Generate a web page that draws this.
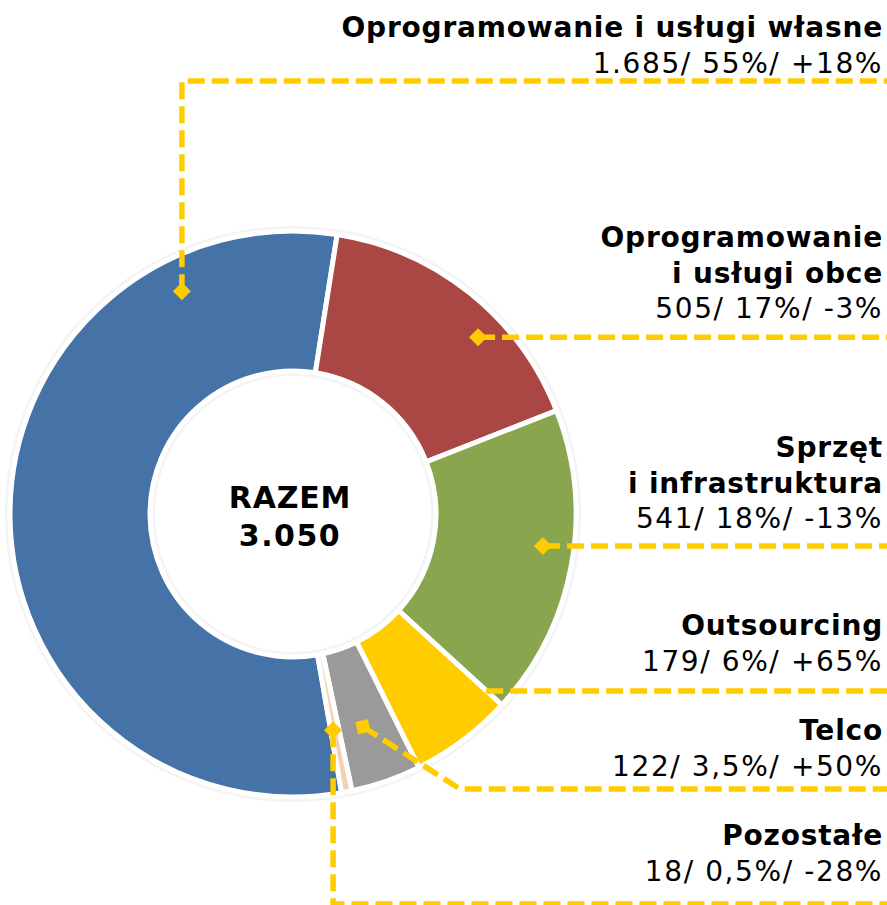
<!DOCTYPE html>
<html>
<head>
<meta charset="utf-8">
<script src="https://cdn.jsdelivr.net/npm/d3@7"></script>
<style>
  html, body { margin: 0; padding: 0; background: #fff; }
  #chart text { font-family: 'DejaVu Sans', Verdana, sans-serif; }
</style>
</head>
<body>
<div id="chart"></div>
<script>
// Data
const titles = [
  ['Oprogramowanie i usługi własne'],
  ['Oprogramowanie', 'i usługi obce'],
  ['Sprzęt', 'i infrastruktura'],
  ['Outsourcing'],
  ['Telco'],
  ['Pozostałe'],
];
const values = [1685, 505, 541, 179, 122, 18];
const valueLabels = ['1.685', '505', '541', '179', '122', '18'];
const shares = ['55%', '17%', '18%', '6%', '3,5%', '0,5%'];
const changes = ['+18%', '-3%', '-13%', '+65%', '+50%', '-28%'];
const centerLabel = ['RAZEM', '3.050'];
const colors = ['#4572a7', '#aa4643', '#89a54e', '#ffcc00', '#9a9a9a', '#f3d2b4'];

function draw() {
  // Dimensions
  let dimensions = {
    width: 887,
    height: 905,
    cx: 293,
    cy: 514,
    outer: 283,
    inner: 143,
    textRight: 883,
    lineHeight: 35.5,
  };

  // label layout: first baseline + leader anchor (angle in deg, radius)
  const labelTop = [37, 247, 457, 635, 740, 845];
  const leaders = [
    { angle: 333.5, r: 249, kind: 'up', y: 81 },
    { angle: 46.3, r: 256, kind: 'flat' },
    { angle: 97.3, r: 252, kind: 'flat' },
    { angle: 132.5, r: 262, kind: 'flat', noMarker: true },
    { angle: 161.8, r: 224, kind: 'diag', x: 460, y: 789 },
    { angle: 169.5, r: 220, kind: 'down', y: 904 },
  ];

  const svg = d3
    .select('#chart')
    .append('svg')
    .attr('width', dimensions.width)
    .attr('height', dimensions.height);

  const defs = svg.append('defs');
  defs
    .append('marker')
    .attr('id', 'diamond')
    .attr('viewBox', '-10 -10 20 20')
    .attr('markerUnits', 'userSpaceOnUse')
    .attr('markerWidth', 20)
    .attr('markerHeight', 20)
    .attr('orient', 'auto')
    .append('path')
    .attr('d', 'M-9,0L0,-9L9,0L0,9Z')
    .attr('fill', '#ffcc00');

  const ctr = svg
    .append('g')
    .attr('transform', `translate(${dimensions.cx}, ${dimensions.cy})`);

  // Pie
  const pie = d3
    .pie()
    .sort(null)
    .value((d) => d)
    .startAngle((170.1 * Math.PI) / 180)
    .endAngle((530.1 * Math.PI) / 180);

  const arc = d3
    .arc()
    .innerRadius(dimensions.inner)
    .outerRadius(dimensions.outer);

  // soft grey halo around the ring
  ctr
    .append('circle')
    .attr('r', dimensions.outer + 2)
    .attr('fill', 'none')
    .attr('stroke', '#f4f4f4')
    .attr('stroke-width', 6);
  ctr
    .append('circle')
    .attr('r', dimensions.inner - 2)
    .attr('fill', 'none')
    .attr('stroke', '#f4f4f4')
    .attr('stroke-width', 6);

  ctr
    .selectAll('path.slice')
    .data(pie(values))
    .join('path')
    .classed('slice', true)
    .attr('d', arc)
    .attr('fill', (d, i) => colors[i])
    .attr('stroke', '#fff')
    .attr('stroke-width', 5)
    .attr('stroke-linejoin', 'miter');

  // Center label
  ctr
    .selectAll('text.center')
    .data(centerLabel)
    .join('text')
    .classed('center', true)
    .attr('x', -3)
    .attr('y', (d, i) => -6 + i * 38)
    .attr('text-anchor', 'middle')
    .attr('font-size', 30)
    .attr('font-weight', 'bold')
    .attr('letter-spacing', (d, i) => (i ? 1.5 : 0.8))
    .attr('fill', '#000')
    .text((d) => d);

  // Leader lines
  const polar = (a, r) => [
    dimensions.cx + r * Math.sin((a * Math.PI) / 180),
    dimensions.cy - r * Math.cos((a * Math.PI) / 180),
  ];

  const leaderPath = (l) => {
    const [x0, y0] = polar(l.angle, l.r);
    const p = d3.path();
    p.moveTo(x0, y0);
    if (l.kind === 'up' || l.kind === 'down') {
      p.lineTo(x0, l.y);
      p.lineTo(dimensions.width, l.y);
    } else if (l.kind === 'diag') {
      p.lineTo(l.x, l.y);
      p.lineTo(dimensions.width, l.y);
    } else {
      p.lineTo(dimensions.width, y0);
    }
    return p.toString();
  };

  svg
    .append('g')
    .selectAll('path')
    .data(leaders)
    .join('path')
    .attr('d', leaderPath)
    .attr('fill', 'none')
    .attr('stroke', '#ffcc00')
    .attr('stroke-width', 5.5)
    .attr('stroke-dasharray', '17 7')
    .attr('marker-start', (d) => (d.noMarker ? null : 'url(#diamond)'));

  // Labels
  const labels = svg
    .append('g')
    .selectAll('g')
    .data(titles)
    .join('g');

  labels
    .selectAll('text.title')
    .data((d, i) => d.map((t, j) => ({ t, y: labelTop[i] + j * dimensions.lineHeight })))
    .join('text')
    .classed('title', true)
    .attr('x', dimensions.textRight)
    .attr('y', (d) => d.y)
    .attr('text-anchor', 'end')
    .attr('font-size', 28)
    .attr('font-weight', 'bold')
    .attr('letter-spacing', 0.8)
    .text((d) => d.t);

  labels
    .append('text')
    .attr('x', dimensions.textRight)
    .attr('y', (d, i) => labelTop[i] + d.length * dimensions.lineHeight)
    .attr('text-anchor', 'end')
    .attr('font-size', 28)
    .attr('letter-spacing', 1.6)
    .text((d, i) => `${valueLabels[i]}/ ${shares[i]}/ ${changes[i]}`);
}

draw();
</script>
</body>
</html>
